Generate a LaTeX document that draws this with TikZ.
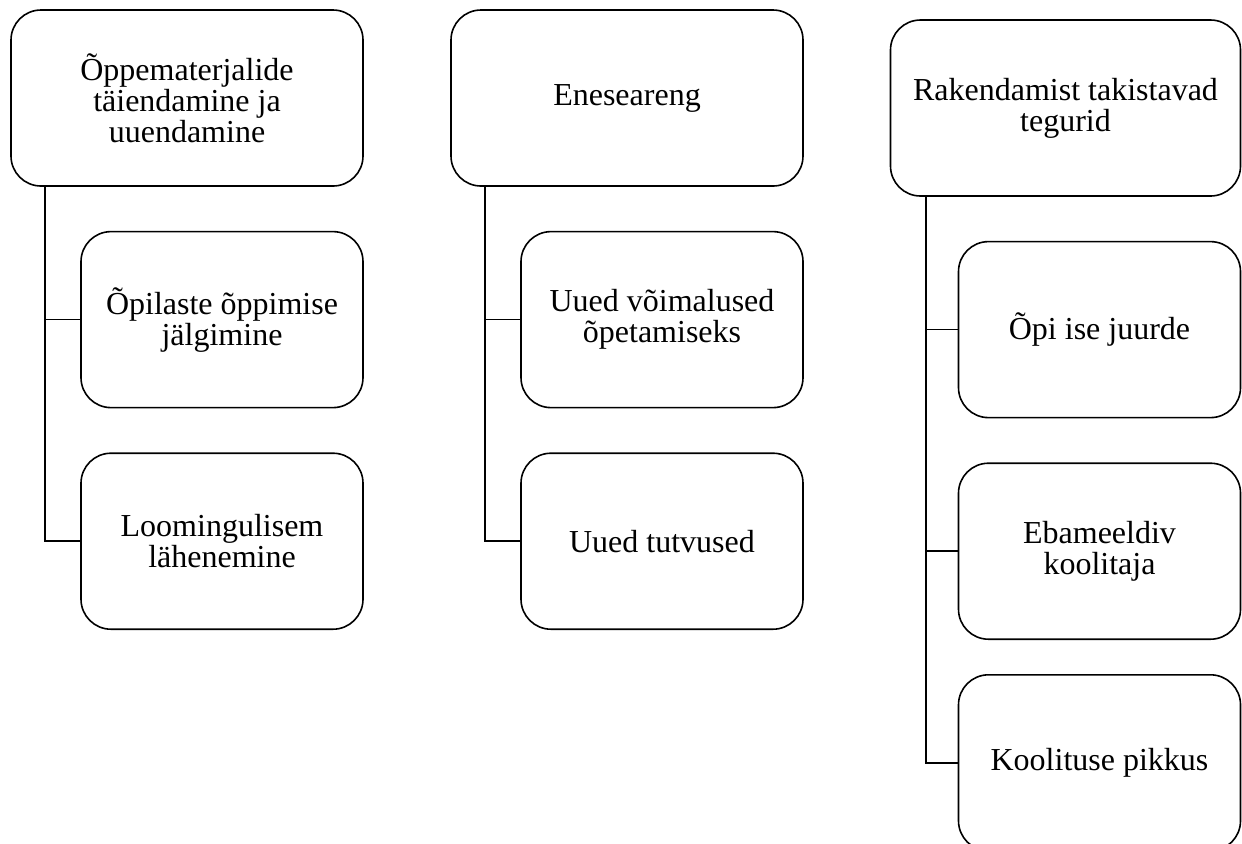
\documentclass[tikz,border=0pt]{standalone}
\usepackage{fontspec}
\setmainfont{Liberation Serif}
\usetikzlibrary{positioning}

\begin{document}
\begin{tikzpicture}[x=0.5pt,y=-0.5pt,node distance=22pt,
    box/.style={draw,line width=0.8pt,rounded corners=15pt,align=center,
      minimum height=88pt,inner sep=2pt,font=\fontsize{16}{15.5}\selectfont},
    head/.style={box,minimum width=176pt},
    item/.style={box,minimum width=141pt},
    link/.style={draw,line width=0.8pt}]
  \useasboundingbox (0,0) rectangle (1242,843);
  % first column
  \node[head] (M) at (187,98) {Õppematerjalide\\täiendamine ja\\uuendamine};
  \node[item] (M1) [below left=22pt and 0pt of M.south east] {Õpilaste õppimise\\jälgimine};
  \node[item] (M2) [below=of M1] {Loomingulisem\\lähenemine};
  % second column
  \node[head] (E) at (627,98) {Eneseareng};
  \node[item] (E1) [below left=22pt and 0pt of E.south east] {Uued võimalused\\õpetamiseks};
  \node[item] (E2) [below=of E1] {Uued tutvused};
  % third column
  \node[head,minimum width=175pt] (R) at (1065.5,108) {Rakendamist takistavad\\tegurid};
  \node[item] (R1) [below left=22pt and 0pt of R.south east] {Õpi ise juurde};
  \node[item] (R2) [below=of R1] {Ebameeldiv\\koolitaja};
  \node[item] (R3) [below=17pt of R2] {Koolituse pikkus};
  % connectors
  \coordinate (m) at ([xshift=17.5pt]M.south west);
  \coordinate (e) at ([xshift=17.5pt]E.south west);
  \coordinate (r) at ([xshift=18pt]R.south west);
  \path[link] (m) |- (M1.west);
  \path[link] (m) |- (M2.west);
  \path[link] (e) |- (E1.west);
  \path[link] (e) |- (E2.west);
  \path[link] (r) |- (R1.west);
  \path[link] (r) |- (R2.west);
  \path[link] (r) |- (R3.west);
\end{tikzpicture}
\end{document}
